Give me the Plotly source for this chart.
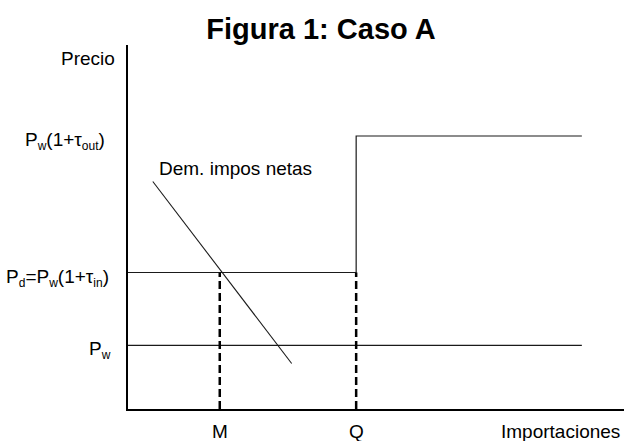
import plotly.graph_objects as go

# --- data (economic diagram, abstract units) ---
pw = 1.75          # world price P_w
pd = 3.75          # P_d = P_w(1+tau_in)
pout = 7.5         # P_w(1+tau_out)
m_q = 1.85         # imports M
q_q = 4.6          # quota Q
x_end = 9.15       # right end of supply lines
dem_x = [0.5, 3.3]     # net import demand
dem_y = [6.25, 1.25]


def sub(t):
    return '<sub><span style="font-size:12px">' + t + '</span></sub>'


y_labels = ["P" + sub("w") + "(1+τ" + sub("out") + ")",
            "P" + sub("d") + "=P" + sub("w") + "(1+τ" + sub("in") + ")",
            "P" + sub("w")]
y_vals = [pout, pd, pw]
x_labels = ["M", "Q"]
x_vals = [m_q, q_q]

FONT = "Arial, Liberation Sans, sans-serif"
LINE = "#1a1a1a"

fig = go.Figure()
# P_w horizontal line
fig.add_trace(go.Scatter(x=[0, x_end], y=[pw, pw], mode="lines",
                         line=dict(color=LINE, width=1.2), hoverinfo="skip"))
# step supply: P_d up to Q, then P_w(1+tau_out)
fig.add_trace(go.Scatter(x=[0, q_q, q_q, x_end], y=[pd, pd, pout, pout], mode="lines",
                         line=dict(color=LINE, width=1.2), hoverinfo="skip"))
# demand
fig.add_trace(go.Scatter(x=dem_x, y=dem_y, mode="lines",
                         line=dict(color=LINE, width=1.1), hoverinfo="skip"))
# dashed drops
for xv in x_vals:
    fig.add_trace(go.Scatter(x=[xv, xv], y=[0, pd], mode="lines",
                             line=dict(color="black", width=2.5, dash="8px,4px"),
                             hoverinfo="skip"))

ann = []
shifts = [-21, -17, -15]
for lab, yv, xs in zip(y_labels, y_vals, shifts):
    ann.append(dict(text=lab, xref="paper", x=0, xanchor="right", xshift=xs,
                    yref="y", y=yv, yanchor="middle", yshift=-5, showarrow=False))
ann.append(dict(text="Precio", xref="paper", x=0, xanchor="right", xshift=-11,
                yref="paper", y=1, yanchor="middle", yshift=-13, showarrow=False))
for lab, xv in zip(x_labels, x_vals):
    ann.append(dict(text=lab, xref="x", x=xv, xanchor="center",
                    yref="paper", y=0, yanchor="middle", yshift=-22, showarrow=False))
ann.append(dict(text="Importaciones", xref="paper", x=1, xanchor="right", xshift=-2,
                yref="paper", y=0, yanchor="middle", yshift=-22, showarrow=False))
ann.append(dict(text="Dem. impos netas", xref="x", x=dem_x[0], xanchor="left", xshift=4,
                yref="y", y=dem_y[0], yanchor="middle", yshift=13, showarrow=False))

fig.update_layout(
    width=624, height=441,
    margin=dict(l=128, r=0, t=45, b=32, pad=0),
    paper_bgcolor="white", plot_bgcolor="white",
    showlegend=False,
    font=dict(family=FONT, size=19, color="black"),
    title=dict(text="<b>Figura 1: Caso A</b>", xref="container", yref="container",
               x=321 / 624, xanchor="center", y=1 - 29 / 441, yanchor="middle",
               font=dict(family=FONT, size=29, color="black")),
    annotations=ann,
    xaxis=dict(range=[0, 10], showgrid=False, zeroline=False, showticklabels=False,
               ticks="", showline=True, linecolor="black", linewidth=1.5, fixedrange=True),
    yaxis=dict(range=[0, 10], showgrid=False, zeroline=False, showticklabels=False,
               ticks="", showline=True, linecolor="black", linewidth=1.5, fixedrange=True),
)

fig.write_html("out.html", config=dict(displayModeBar=False),
               post_script="document.body.style.margin='0';document.body.style.overflow='hidden';")
